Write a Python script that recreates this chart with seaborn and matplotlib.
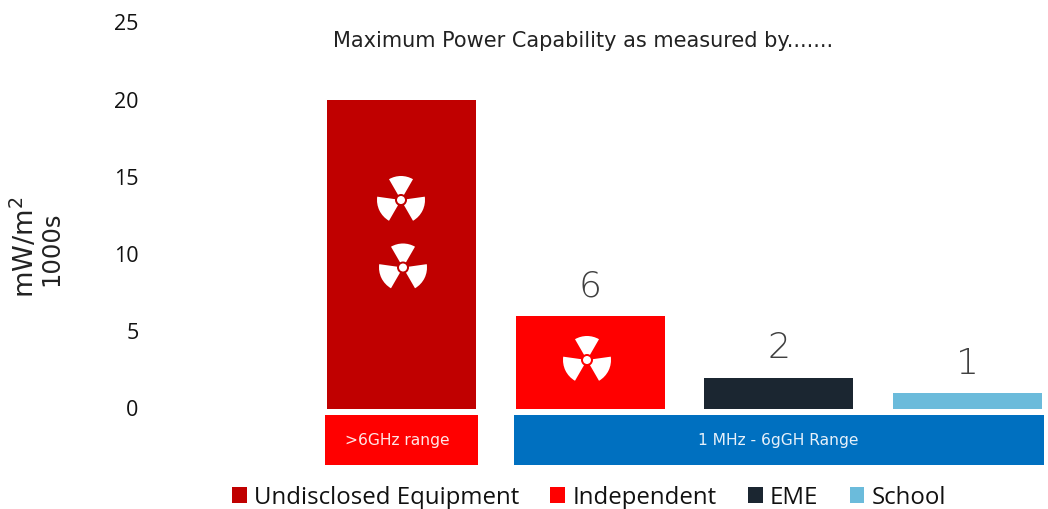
import matplotlib
matplotlib.use("Agg")
import matplotlib.pyplot as plt
from matplotlib.patches import Wedge, Circle, Rectangle
import pandas as pd
import seaborn as sns

categories = ["Undisclosed Equipment", "Independent", "EME", "School"]
values = [20, 6, 2, 1]
bar_labels = ["", "6", "2", "1"]
colors = ["#C00000", "#FF0000", "#1B2631", "#6BBBDB"]
y_ticks = [0, 5, 10, 15, 20, 25]
title = "Maximum Power Capability as measured by......."
range_labels = [">6GHz range", "1 MHz - 6gGH Range"]

W, H = 1048, 509
sns.set_theme(style="white")
plt.rcParams["font.family"] = ["Open Sans", "DejaVu Sans"]
fig = plt.figure(figsize=(W / 100, H / 100), dpi=100)

y0, y25 = 408.5, 22.5
xl, xr = 140, W
ax = fig.add_axes([xl / W, 1 - y0 / H, (xr - xl) / W, (y0 - y25) / H])
df = pd.DataFrame({"cat": categories, "val": values})
sns.barplot(data=df, x="cat", y="val", hue="cat", palette=colors, dodge=False,
            width=0.79, ax=ax, legend=False, saturation=1, order=categories,
            hue_order=categories, linewidth=0, edgecolor="none")
ppu = 188.7
c0 = 401.5
ax.set_xlim((xl - c0) / ppu, (xr - c0) / ppu)
ax.set_ylim(0, 25)
ax.set_xlabel("")
ax.set_ylabel("")
ax.set_xticks([])
ax.set_yticks(y_ticks)
ax.tick_params(axis="y", length=0, pad=1, labelsize=15.5, labelcolor="#111111")
for s in ax.spines.values():
    s.set_visible(False)
ax.patch.set_alpha(0)

for i, t in enumerate(bar_labels):
    if t:
        ax.annotate(t, (i, values[i]), xytext=(0, 9), textcoords="offset points",
                    ha="center", va="bottom", fontsize=26, color="#404040",
                    family="DejaVu Sans", fontweight="light")

# overlay in pixel coordinates for the decorative items
ov = fig.add_axes([0, 0, 1, 1], zorder=5)
ov.set_xlim(0, W)
ov.set_ylim(H, 0)
ov.axis("off")

def bg_for(cx):
    return colors[0] if cx < 500 else colors[1]

def trefoil(cx, cy, r=24.0, hub=4.0, rin=3.0):
    for a, h in ((90, 30), (206, 34), (334, 34)):
        # y axis is inverted, so angles are mirrored
        th = -a
        ov.add_patch(Wedge((cx, cy), r, th - h, th + h, width=r - rin, fc="white", ec="none"))
    ov.add_patch(Circle((cx, cy), hub + 2.0, fc=bg_for(cx), ec="none"))
    ov.add_patch(Circle((cx, cy), hub, fc="white", ec="none"))

trefoil(401, 200)
trefoil(403, 267.5)
trefoil(587, 360)

ov.add_patch(Rectangle((325, 415), 153, 50, fc="#FF0000", ec="none"))
ov.add_patch(Rectangle((514, 415), 530, 50, fc="#0070C0", ec="none"))
ov.text(397, 440.5, range_labels[0], ha="center", va="center", color="#FFE6E6", fontsize=11.2, family="DejaVu Sans")
ov.text(778.5, 440.5, range_labels[1], ha="center", va="center", color="#E6F0FA", fontsize=11.2, family="DejaVu Sans")
ov.text(583.5, 40.5, title, ha="center", va="center", color="#222222", fontsize=15, family="DejaVu Sans")
ov.text(25, 247, "mW/m$^2$", rotation=90, ha="center", va="center", fontsize=19.5, color="#222222", family="DejaVu Sans")
ov.text(51, 249, "1000s", rotation=90, ha="center", va="center", fontsize=17.5, color="#222222", family="DejaVu Sans")

handles = [Rectangle((0, 0), 1, 1, fc=c, ec="none") for c in colors]
fig.legend(handles, categories, ncol=4, loc="center", bbox_to_anchor=(589 / W, 1 - 497.5 / H),
           frameon=False, fontsize=17.3, handlelength=0.62, handleheight=0.62,
           handletextpad=0.3, columnspacing=1.3, labelcolor="#111111")

fig.savefig("out.png", dpi=100)
